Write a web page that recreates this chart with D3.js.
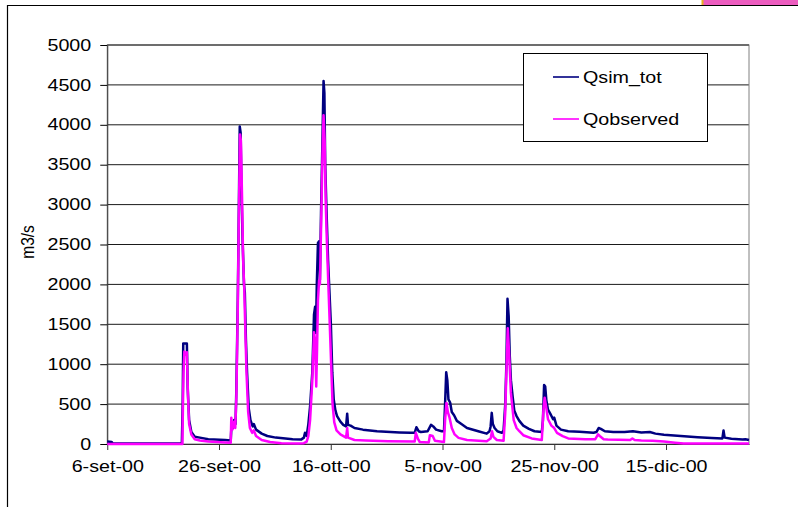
<!DOCTYPE html>
<html><head><meta charset="utf-8">
<script src="https://cdn.jsdelivr.net/npm/d3@7"></script>
<style>
body{margin:0;background:#fff}
text{font-family:"Liberation Sans",Arial,sans-serif;fill:#000}
</style>
</head><body>
<svg id="c" width="798" height="507"></svg>
<script>
// ---------- data ----------
const startDate = Date.UTC(2000, 8, 6); // 6-set-00
const yTicks = [0, 500, 1000, 1500, 2000, 2500, 3000, 3500, 4000, 4500, 5000];
const xTickDays = [0, 20, 40, 60, 80, 100];
const xTickLabels = ["6-set-00", "26-set-00", "16-ott-00", "5-nov-00", "25-nov-00", "15-dic-00"];
const seriesNames = ["Qsim_tot", "Qobserved"];
const yTitle = "m3/s";

// days since 6-set-00 and discharge (m3/s)
const simDays = [0,0.8,1.0,13.35,13.5,13.6,14.25,14.4,14.65,15.05,15.66,16.57,18.08,21.1,22.1,22.25,22.5,22.71,22.96,23.11,23.36,23.56,23.71,23.87,24.02,24.22,24.47,24.62,24.82,25.02,25.32,25.63,26.03,26.23,26.63,27.64,28.65,30.16,33.18,34.69,
35.19,35.39,35.69,35.99,36.3,36.7,37.0,37.2,37.35,37.5,37.71,37.91,38.06,38.26,38.51,38.71,38.86,39.01,39.22,39.52,39.77,40.02,40.27,40.53,40.83,41.13,41.73,42.24,42.74,42.94,43.09,43.55,44.25,45.76,48.28,52.3,54.32,55.02,55.32,55.73,56.13,57.34,57.94,58.34,58.85,59.85,60.26,60.46,60.66,60.86,61.06,61.36,61.66,62.07,62.57,63.38,64.38,66.4,67.91,68.41,68.61,68.81,69.01,69.32,69.82,70.63,70.93,71.23,71.43,71.63,71.84,72.04,72.24,72.54,72.84,73.25,73.75,74.45,75.46,76.46,77.77,77.97,78.18,78.38,78.58,78.88,79.28,79.79,79.99,80.39,81.2,82.5,84.52,87.03,87.54,87.94,88.34,89.05,90.56,92.57,94.08,95.59,97.1,98.11,99.62,102.64,105.66,108.18,110.09,110.29,110.49,111.7,113.71,114.22,114.85];
const simQ = [30,25,5,5,500,1260,1260,700,300,150,90,80,60,50,45,250,200,300,250,700,1800,3000,3980,3900,3200,2560,2000,1900,1300,900,450,300,220,250,180,130,100,80,60,55,
80,140,100,250,470,900,1620,1720,1390,2000,2520,2540,2060,2900,3800,4550,4400,3500,2970,2300,1900,1500,900,560,420,350,280,240,220,380,240,230,200,180,160,145,140,140,210,160,150,160,240,220,180,160,160,500,900,800,560,520,400,360,290,250,200,160,130,160,220,390,250,200,160,140,170,500,1000,1820,1600,1100,800,600,420,350,290,230,190,160,150,300,740,720,550,430,380,310,330,230,180,160,155,140,150,200,190,160,150,150,160,145,150,130,115,100,85,75,70,170,80,65,55,60,50];

const obsDays = [0,13.45,13.55,13.65,13.8,14.05,14.25,14.45,14.65,15.05,15.66,16.57,18.08,21.1,22.1,22.2,22.4,22.66,22.91,23.11,23.36,23.56,23.76,23.92,24.12,24.32,24.52,24.72,24.92,25.22,25.53,25.93,26.23,26.63,27.64,29.15,31.16,34.18,
35.19,35.69,35.99,36.3,36.7,37.0,37.2,37.4,37.55,37.71,37.91,38.06,38.26,38.51,38.71,38.91,39.11,39.32,39.57,39.82,40.07,40.32,40.63,41.03,41.73,42.74,42.94,43.09,44.25,46.26,50.29,55.02,55.22,55.63,55.93,57.54,57.74,58.24,58.64,60.26,60.46,60.71,60.96,61.26,61.66,62.17,62.87,64.38,67.91,68.61,68.86,69.11,69.72,70.93,71.23,71.43,71.68,71.94,72.24,72.74,73.25,73.75,74.45,75.96,77.77,78.08,78.28,78.58,78.88,79.48,79.99,80.49,81.5,82.5,85.53,87.34,87.84,88.14,88.84,89.55,93.58,93.98,94.39,95.59,97.6,99.62,101.63,103.14,114.85];
const obsQ = [0,0,500,900,1160,1120,1150,600,250,120,60,45,30,20,15,330,180,280,200,600,1700,2900,3880,3800,3100,2300,1950,1400,900,400,200,140,170,100,50,25,10,5,
10,30,100,300,800,1400,1300,720,1200,1800,2050,2000,2700,3600,4120,3800,3000,2500,2000,1500,1000,500,270,170,120,80,200,80,50,45,35,30,140,60,25,20,110,100,40,25,300,515,400,330,200,120,77,50,35,70,160,90,50,40,400,900,1450,1100,640,300,200,160,110,70,50,450,580,450,310,230,200,140,98,70,60,60,120,100,60,55,50,70,50,45,40,30,15,5,5];

const colors = ["#000080", "#FF00FF"];

// ---------- chart ----------
const svg = d3.select("#c");
const DAY = 86400000;
const toDate = d => new Date(startDate + d * DAY);
const L = 107.25, R = 749, T = 45, B = 444;
const SX = 1.23;

// decorations (outer frame, cut-off element at top right)
svg.append("rect").attr("x", 703).attr("y", 0).attr("width", 95).attr("height", 5).attr("fill", "#EC5CBF");
svg.append("rect").attr("x", 701.5).attr("y", 0).attr("width", 2).attr("height", 5).attr("fill", "#E8B020");
svg.append("path").attr("d", "M7.5,507V5.5H798").attr("fill", "none").attr("stroke", "#000").attr("stroke-width", 1.2);

const x = d3.scaleUtc().domain([toDate(0), toDate(simDays[simDays.length - 1])]).range([L, R]);
const y = d3.scaleLinear().domain([0, 5000]).range([B, T]);

// gridlines
svg.append("g").selectAll("line").data(yTicks.filter(v => v > 0)).join("line")
  .attr("x1", L).attr("x2", R).attr("y1", d => y(d)).attr("y2", d => y(d))
  .attr("stroke", "#1a1a1a").attr("stroke-width", 1);

// plot border
svg.append("rect").attr("x", L).attr("y", T).attr("width", R - L).attr("height", B - T)
  .attr("fill", "none").attr("stroke", "#808080").attr("stroke-width", 1);
svg.append("line").attr("x1", L).attr("x2", R).attr("y1", T).attr("y2", T).attr("stroke", "#555");

// axes
const yAxis = d3.axisLeft(y).tickValues(yTicks).tickSize(7).tickSizeOuter(0).tickFormat(d3.format("d"));
const gy = svg.append("g").attr("transform", `translate(${L},0)`).call(yAxis);
gy.select(".domain").attr("stroke", "#333");
gy.selectAll(".tick line").attr("stroke", "#000");
gy.selectAll("text").attr("x", -16 / SX).attr("transform", `scale(${SX},1)`)
  .style("font-size", "16px").style("font-family", '"Liberation Sans",Arial,sans-serif');

const xAxis = d3.axisBottom(x).tickValues(xTickDays.map(toDate)).tickSize(6).tickSizeOuter(0)
  .tickFormat((d, i) => xTickLabels[i]);
const gx = svg.append("g").attr("transform", `translate(0,${B})`).call(xAxis);
gx.select(".domain").attr("stroke", "#333");
gx.selectAll(".tick line").attr("stroke", "#333");
gx.selectAll("text").attr("y", 17).attr("transform", `scale(${SX},1)`)
  .style("font-size", "16px").style("font-family", '"Liberation Sans",Arial,sans-serif');

// y title
svg.append("text").attr("transform", `translate(27,242) scale(1.2,1) rotate(-90)`)
  .attr("text-anchor", "middle").attr("dy", "0.35em").style("font-size", "15.5px").text(yTitle);

// series
const line = d3.line().x(d => x(toDate(d[0]))).y(d => y(d[1]));
const series = [d3.zip(simDays, simQ), d3.zip(obsDays, obsQ)];
svg.append("g").selectAll("path").data(series).join("path")
  .attr("d", line).attr("fill", "none")
  .attr("stroke", (d, i) => colors[i]).attr("stroke-width", 2.5)
  .attr("stroke-linejoin", "round");

// legend
const lg = svg.append("g");
lg.append("rect").attr("x", 523.5).attr("y", 53.5).attr("width", 184).attr("height", 88)
  .attr("fill", "#fff").attr("stroke", "#000").attr("stroke-width", 1);
const items = lg.selectAll("g").data(seriesNames).join("g")
  .attr("transform", (d, i) => `translate(0,${77 + i * 42})`);
items.append("line").attr("x1", 553).attr("x2", 579).attr("y1", 0).attr("y2", 0)
  .attr("stroke", (d, i) => colors[i]).attr("stroke-width", 1.6);
items.append("text").attr("transform", `translate(583,0) scale(${SX},1)`).attr("dy", "0.35em")
  .style("font-size", "16px").text(d => d);
</script>
</body></html>
